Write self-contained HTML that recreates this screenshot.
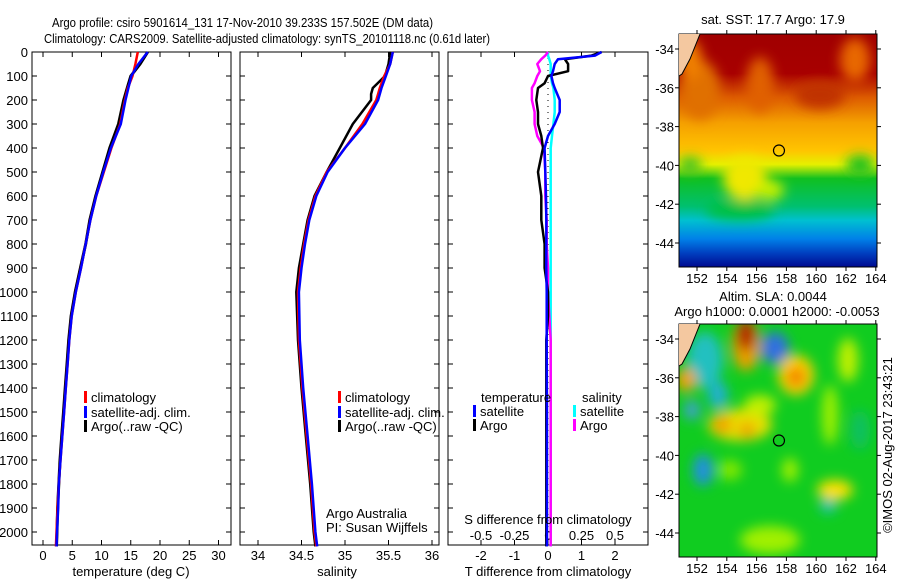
<!DOCTYPE html>
<html><head><meta charset="utf-8">
<style>
html,body{margin:0;padding:0;background:#fff;}
svg{display:block;font-family:"Liberation Sans",sans-serif;}
text{font-size:13px;fill:#000;}
</style></head>
<body>
<svg id="chart" width="900" height="580" viewBox="0 0 900 580">
<defs>
<filter id="blur6" x="-30%" y="-30%" width="160%" height="160%"><feGaussianBlur stdDeviation="6"/></filter>
<filter id="blur3" x="-30%" y="-30%" width="160%" height="160%"><feGaussianBlur stdDeviation="3"/></filter>
<clipPath id="clipM1"><rect x="679" y="34" width="198" height="233"/></clipPath>
<clipPath id="clipM2"><rect x="679" y="324" width="198" height="233"/></clipPath>
<linearGradient id="sstGrad" x1="0" y1="0" x2="0" y2="1">
<stop offset="0" stop-color="#a00000"/><stop offset="0.17" stop-color="#a80000"/>
<stop offset="0.27" stop-color="#dc5a00"/><stop offset="0.38" stop-color="#f5a000"/>
<stop offset="0.50" stop-color="#ffc400"/><stop offset="0.56" stop-color="#e6f000"/>
<stop offset="0.62" stop-color="#10c020"/><stop offset="0.74" stop-color="#00c070"/>
<stop offset="0.80" stop-color="#00c0d0"/><stop offset="0.88" stop-color="#0080e8"/>
<stop offset="0.94" stop-color="#0040c0"/><stop offset="1" stop-color="#000a90"/>
</linearGradient>
</defs>
<g id="titles">
<text x="52" y="27" textLength="381" lengthAdjust="spacingAndGlyphs">Argo profile: csiro 5901614_131 17-Nov-2010 39.233S 157.502E (DM data)</text>
<text x="44" y="43" textLength="446" lengthAdjust="spacingAndGlyphs">Climatology: CARS2009. Satellite-adjusted climatology: synTS_20101118.nc (0.61d later)</text>
</g>
<g id="plots"></g>
<g id="maps">
<text x="773" y="24" text-anchor="middle">sat. SST: 17.7 Argo: 17.9</text>
<g clip-path="url(#clipM1)">
<rect x="679" y="34" width="198" height="233" fill="url(#sstGrad)"/>
<g filter="url(#blur6)">
<ellipse cx="700" cy="90" rx="20" ry="30" fill="#e07000"/>
<ellipse cx="690" cy="60" rx="12" ry="20" fill="#f08000"/>
<ellipse cx="760" cy="85" rx="14" ry="28" fill="#e06000"/>
<ellipse cx="855" cy="60" rx="15" ry="22" fill="#e86800"/>
<ellipse cx="820" cy="95" rx="25" ry="14" fill="#c03000"/>
<ellipse cx="745" cy="178" rx="22" ry="22" fill="#f0e800"/>
<ellipse cx="770" cy="190" rx="14" ry="10" fill="#c8f000"/>
<ellipse cx="690" cy="165" rx="12" ry="8" fill="#40c020"/>
<ellipse cx="860" cy="165" rx="14" ry="10" fill="#20c020"/>
<ellipse cx="740" cy="210" rx="35" ry="10" fill="#00c040"/>
</g>
</g>
<rect x="679" y="34" width="198" height="233" fill="none" stroke="#000"/>
<text x="773" y="301" text-anchor="middle">Altim. SLA: 0.0044</text>
<text x="777" y="316" text-anchor="middle">Argo h1000: 0.0001 h2000: -0.0053</text>
<g clip-path="url(#clipM2)">
<rect x="679" y="324" width="198" height="233" fill="#10cc20"/>
<g filter="url(#blur6)">
<ellipse cx="705" cy="360" rx="18" ry="28" fill="#20c0c0"/>
<ellipse cx="718" cy="395" rx="10" ry="14" fill="#20b0d0"/>
<ellipse cx="692" cy="410" rx="8" ry="10" fill="#40a0d0"/>
<ellipse cx="746" cy="345" rx="14" ry="26" fill="#e8a000"/>
<ellipse cx="746" cy="335" rx="9" ry="16" fill="#b01000"/>
<ellipse cx="775" cy="348" rx="14" ry="16" fill="#3070e0"/>
<ellipse cx="796" cy="375" rx="18" ry="20" fill="#ffd000"/>
<ellipse cx="796" cy="377" rx="9" ry="10" fill="#f08000"/>
<ellipse cx="686" cy="380" rx="10" ry="12" fill="#f0a000"/>
<ellipse cx="740" cy="425" rx="32" ry="16" fill="#e8e000"/>
<ellipse cx="722" cy="425" rx="10" ry="9" fill="#f0a000"/>
<ellipse cx="747" cy="430" rx="8" ry="8" fill="#f0a000"/>
<ellipse cx="760" cy="405" rx="16" ry="10" fill="#c0f000"/>
<ellipse cx="703" cy="470" rx="10" ry="16" fill="#2090e0"/>
<ellipse cx="830" cy="415" rx="8" ry="30" fill="#a0f000"/>
<ellipse cx="848" cy="360" rx="10" ry="22" fill="#c0f000"/>
<ellipse cx="835" cy="490" rx="18" ry="10" fill="#ffe000"/>
<ellipse cx="828" cy="506" rx="8" ry="7" fill="#20c0c0"/>
<ellipse cx="770" cy="540" rx="30" ry="14" fill="#a0f000"/>
<ellipse cx="730" cy="470" rx="12" ry="10" fill="#80e800"/>
<ellipse cx="790" cy="470" rx="8" ry="12" fill="#a0f000"/>
<ellipse cx="860" cy="430" rx="10" ry="20" fill="#10c060"/>
</g>
</g>
<rect x="679" y="324" width="198" height="233" fill="none" stroke="#000"/>
<text transform="translate(892,445) rotate(-90)" text-anchor="middle">©IMOS 02-Aug-2017 23:43:21</text>
</g>
</svg>
<script>
// ---- profile data ----
var depthsT = [0,50,100,150,200,300,400,500,600,700,800,900,1000,1100,1200,1300,1400,1500,1600,1700,1800,1900,2000,2060];
var tempArgo = [17.9,16.6,15.0,14.4,13.8,12.9,11.4,10.2,9.0,8.0,7.3,6.4,5.5,4.8,4.4,4.1,3.8,3.5,3.2,2.9,2.7,2.5,2.4,2.3];
var tempClim = [16.2,15.8,15.3,14.5,14.0,13.2,11.7,10.4,9.1,8.1,7.3,6.5,5.6,4.9,4.5,4.2,3.9,3.6,3.3,3.0,2.7,2.5,2.3,2.2];
var tempSat = [17.9,16.3,15.1,14.6,14.1,13.3,11.6,10.3,9.1,8.1,7.3,6.5,5.6,4.9,4.5,4.2,3.9,3.6,3.3,3.0,2.7,2.6,2.4,2.3];
var depthsS = [0,50,100,150,175,200,300,400,500,600,700,800,900,1000,1200,1400,1600,1800,2000,2060];
var salArgo = [35.52,35.50,35.46,35.32,35.30,35.30,35.09,34.94,34.79,34.65,34.57,34.52,34.47,34.44,34.46,34.50,34.55,34.60,34.64,34.66];
var salClim = [35.55,35.52,35.45,35.40,35.38,35.36,35.20,35.00,34.79,34.66,34.58,34.53,34.49,34.46,34.47,34.51,34.56,34.61,34.65,34.67];
var salSat = [35.55,35.52,35.47,35.42,35.40,35.38,35.23,35.00,34.80,34.67,34.59,34.54,34.50,34.47,34.48,34.52,34.57,34.62,34.66,34.68];
var depthsD = [0,15,30,50,80,100,130,150,200,250,300,350,400,500,600,700,800,900,1000,1100,1200,1500,2000,2060];
var dTsat = [1.6,1.4,0.3,0.2,0.15,0.1,0.15,0.2,0.35,0.35,0.2,0.0,-0.1,-0.08,-0.06,-0.05,-0.05,-0.05,-0.04,-0.04,-0.04,-0.03,-0.03,-0.03];
var dTargo = [1.6,1.3,0.5,0.6,0.6,0.0,-0.1,-0.3,-0.35,-0.3,-0.3,-0.2,-0.15,-0.3,-0.2,-0.2,-0.1,-0.1,0.0,0.0,-0.05,-0.05,-0.05,-0.05];
var dSsat = [0.0,0.0,0.01,0.02,0.02,0.02,0.03,0.04,0.05,0.05,0.04,0.03,0.02,0.02,0.02,0.02,0.02,0.02,0.02,0.02,0.02,0.02,0.02,0.02];
var dSargo = [0.0,-0.02,-0.05,-0.08,-0.06,-0.08,-0.1,-0.12,-0.12,-0.1,-0.1,-0.08,-0.03,-0.02,-0.02,-0.01,-0.01,0.0,0.0,0.01,0.02,0.02,0.02,0.02];
var depthTicks = [0,100,200,300,400,500,600,700,800,900,1000,1100,1200,1300,1400,1500,1600,1700,1800,1900,2000];
var tempTicks = [0,5,10,15,20,25,30];
var salTicks = [34,34.5,35,35.5,36];
var dTTicks = [-2,-1,0,1,2];
var dSTicks = [-0.5,-0.25,0,0.25,0.5];
var dSTickLabels = ["-0.5","-0.25","0","0.25","0.5"];
var lonTicks = [152,154,156,158,160,162,164];
var latTicks = [-34,-36,-38,-40,-42,-44];
var argoLon = 157.502, argoLat = -39.233;

var NS = "http://www.w3.org/2000/svg";
var root = document.getElementById('plots');
function el(tag, attrs, parent, txt){
  var e = document.createElementNS(NS, tag);
  for (var k in attrs) e.setAttribute(k, attrs[k]);
  if (txt !== undefined) e.textContent = txt;
  (parent || root).appendChild(e);
  return e;
}
var TOP = 52, BOT = 545;
function yD(d){ return TOP + d * 0.24; }
function xT(t){ return 43 + t * 5.85; }
function xS(s){ return 258 + (s - 34) * 87; }
function xdT(t){ return 548 + t * 33.5; }
function xdS(s){ return 548 + s * 134; }
function xLon(l){ return 697 + (l - 152) * 14.9; }
function yLat1(l){ return 49 + (-34 - l) * 19.4; }
function yLat2(l){ return 339 + (-34 - l) * 19.4; }

function frame(x0, x1, name){
  var r = el('rect', {x:x0, y:TOP, width:x1-x0, height:BOT-TOP, fill:'none', stroke:'#000'});
  
  
  depthTicks.forEach(function(d){
    el('line', {x1:x0, x2:x0+5, y1:yD(d), y2:yD(d), stroke:'#000'});
    el('line', {x1:x1-5, x2:x1, y1:yD(d), y2:yD(d), stroke:'#000'});
  });
}
function series(xs, ds, fx, color, w, name){
  var pts = xs.map(function(v,i){ return fx(v).toFixed(1) + ',' + yD(ds[i]).toFixed(1); }).join(' ');
  var p = el('polyline', {points:pts, fill:'none', stroke:color, 'stroke-width':w, 'stroke-linejoin':'round'});
  
  
}
function xticks(ticks, fx, labels, y, name, yl){
  ticks.forEach(function(t,i){
    el('line', {x1:fx(t), x2:fx(t), y1:BOT, y2:BOT-5, stroke:'#000'});
    el('line', {x1:fx(t), x2:fx(t), y1:TOP, y2:TOP+5, stroke:'#000'});
    var tx = el('text', {x:fx(t), y:yl, 'text-anchor':'middle'}, root, labels ? labels[i] : String(t));
    
    
  });
}
function legendEntry(x, y, color, label){
  var g = el('g', {});
  
  
  el('rect', {x:x, y:y-11, width:3, height:12, fill:color}, g);
  el('text', {x:x+7, y:y}, g, label);
}

// Panel 1 temperature
frame(32, 231, 'temperature-panel');
depthTicks.forEach(function(d){
  var t = el('text', {x:28, y:yD(d)+5, 'text-anchor':'end'}, root, String(d));
  
  
});
xticks(tempTicks, xT, null, BOT, 'temperature-tick-label', 560);
series(tempArgo, depthsT, xT, '#000', 3, 'temperature-argo-line');
series(tempClim, depthsT, xT, '#ff0000', 2.5, 'temperature-climatology-line');
series(tempSat, depthsT, xT, '#0000ff', 2.5, 'temperature-satellite-line');
var t1 = el('text', {x:131, y:576, 'text-anchor':'middle'}, root, 'temperature (deg C)');


legendEntry(84, 402, '#ff0000', 'climatology');
legendEntry(84, 417, '#0000ff', 'satellite-adj. clim.');
legendEntry(84, 431, '#000', 'Argo(..raw -QC)');

// Panel 2 salinity
frame(240, 439, 'salinity-panel');
xticks(salTicks, xS, null, BOT, 'salinity-tick-label', 560);
series(salArgo, depthsS, xS, '#000', 2.5, 'salinity-argo-line');
series(salClim, depthsS, xS, '#ff0000', 2.5, 'salinity-climatology-line');
series(salSat, depthsS, xS, '#0000ff', 2.5, 'salinity-satellite-line');
var t2 = el('text', {x:337, y:576, 'text-anchor':'middle'}, root, 'salinity');


legendEntry(338, 402, '#ff0000', 'climatology');
legendEntry(338, 417, '#0000ff', 'satellite-adj. clim.');
legendEntry(338, 431, '#000', 'Argo(..raw -QC)');
var a1 = el('text', {x:326, y:518}, root, 'Argo Australia');


var a2 = el('text', {x:326, y:532}, root, 'PI: Susan Wijffels');



// Panel 3 differences
frame(448, 648, 'difference-panel');
el('line', {x1:548, x2:548, y1:TOP, y2:BOT, stroke:'#000', 'stroke-dasharray':'1,5'});
xticks(dTTicks, xdT, null, BOT, 'temp-diff-tick-label', 560);
dSTicks.forEach(function(s,i){
  var t = el('text', {x:xdS(s), y:540, 'text-anchor':'middle'}, root, dSTickLabels[i]);
  
  
});
series(dSsat, depthsD, xdS, '#00ffff', 2.5, 'sal-diff-satellite-line');
series(dSargo, depthsD, xdS, '#ff00ff', 2.5, 'sal-diff-argo-line');
series(dTargo, depthsD, xdT, '#000', 2.5, 'temp-diff-argo-line');
series(dTsat, depthsD, xdT, '#0000ff', 2.5, 'temp-diff-satellite-line');
var t3 = el('text', {x:548, y:524, 'text-anchor':'middle'}, root, 'S difference from climatology');


var t4 = el('text', {x:548, y:576, 'text-anchor':'middle'}, root, 'T difference from climatology');


var lt = el('text', {x:481, y:402}, root, 'temperature');


var ls = el('text', {x:582, y:402}, root, 'salinity');


legendEntry(473, 416, '#0000ff', 'satellite');
legendEntry(473, 430, '#000', 'Argo');
legendEntry(573, 416, '#00ffff', 'satellite');
legendEntry(573, 430, '#ff00ff', 'Argo');

// Map axes
var maps = document.getElementById('maps');
function mapAxes(yLat, top, bot, name){
  lonTicks.forEach(function(l){
    el('line', {x1:xLon(l), x2:xLon(l), y1:bot, y2:bot+4, stroke:'#000'}, maps);
    el('line', {x1:xLon(l), x2:xLon(l), y1:top-4, y2:top, stroke:'#000'}, maps);
    var t = el('text', {x:xLon(l), y:bot+16, 'text-anchor':'middle'}, maps, String(l));
    
    
  });
  latTicks.forEach(function(l){
    el('line', {x1:675, x2:679, y1:yLat(l), y2:yLat(l), stroke:'#000'}, maps);
    el('line', {x1:877, x2:881, y1:yLat(l), y2:yLat(l), stroke:'#000'}, maps);
    var t = el('text', {x:674, y:yLat(l)+5, 'text-anchor':'end'}, maps, String(l));
    
    
  });
  var land = el('polygon', {points:'679,'+top+' 700,'+top+' 690,'+(top+25)+' 682,'+(top+40)+' 679,'+(top+42), fill:'#f4c8a0'}, maps);
  
  
  el('polyline', {points:'700,'+top+' 690,'+(top+25)+' 682,'+(top+40)+' 679,'+(top+42), fill:'none', stroke:'#000'}, maps);
  var c = el('circle', {cx:xLon(argoLon), cy:yLat(argoLat), r:5.5, fill:'none', stroke:'#000', 'stroke-width':1.2}, maps);
  
  
}
mapAxes(yLat1, 34, 267, 'sst-map');
mapAxes(yLat2, 324, 557, 'sla-map');
</script>
</body></html>
